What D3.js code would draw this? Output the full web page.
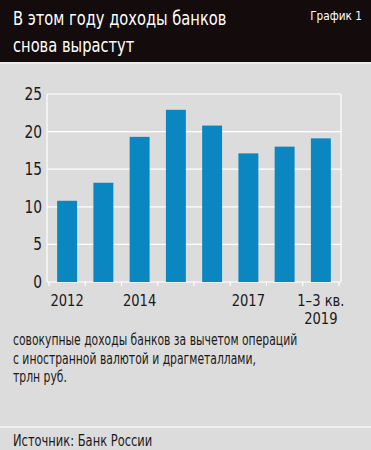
<!DOCTYPE html>
<html>
<head>
<meta charset="utf-8">
<script src="https://cdn.jsdelivr.net/npm/d3@7"></script>
<style>
  body { margin: 0; background: #dcdcdc; }
  text { font-family: "Liberation Sans Narrow", "DejaVu Sans Condensed", sans-serif; }
</style>
</head>
<body>
<div id="chart"></div>
<script>
const categories = ["2012", "2013", "2014", "2015", "2016", "2017", "2018", "1–3 кв. 2019"];
const values = [10.8, 13.2, 19.3, 22.9, 20.8, 17.1, 18.0, 19.1];
const yTicks = [0, 5, 10, 15, 20, 25];
// подписи по оси X (пустые — без подписи)
const xLabels = [["2012"], [], ["2014"], [], [], ["2017"], [], ["1–3 кв.", "2019"]];
const titleLines = ["В этом году доходы банков", "снова вырастут"];
const noteLines = ["совокупные доходы банков за вычетом операций", "с иностранной валютой и драгметаллами,", "трлн руб."];

const width = 371, height = 450;
const svg = d3.select("#chart").append("svg")
    .attr("width", width)
    .attr("height", height);

// шрифт в оригинале узкий — поджимаем текст по ширине
const squeeze = (sel, k) => sel.each(function () {
    const w = this.getComputedTextLength();
    d3.select(this).attr("textLength", w * k).attr("lengthAdjust", "spacingAndGlyphs");
});

svg.append("rect").attr("width", width).attr("height", height).attr("fill", "#dcdcdc");

// шапка
svg.append("rect").attr("width", width).attr("height", 62).attr("fill", "#140c0c");
svg.append("rect").attr("y", 62).attr("width", width).attr("height", 2).attr("fill", "#ececec");

svg.selectAll(".title")
    .data(titleLines)
    .enter().append("text")
    .attr("x", 13)
    .attr("y", (d, i) => 25 + i * 27)
    .attr("fill", "#fff")
    .style("font-size", "20px")
    .text(d => d)
    .call(squeeze, 0.815);

svg.append("text")
    .attr("x", 362)
    .attr("y", 20)
    .attr("text-anchor", "end")
    .attr("fill", "#fff")
    .style("font-size", "13px")
    .text("График 1")
    .call(squeeze, 0.9);

const x = d3.scaleBand()
    .domain(categories)
    .range([47, 341])
    .paddingInner(0.45)
    .paddingOuter(0.28);

const y = d3.scaleLinear()
    .domain([0, 25])
    .range([282, 94]);

// сетка
svg.append("g")
    .selectAll("line")
    .data(yTicks)
    .enter().append("line")
    .attr("x1", 47).attr("x2", 341)
    .attr("y1", d => y(d)).attr("y2", d => y(d))
    .attr("stroke", "#fff")
    .attr("stroke-width", 1.2);

svg.append("line")
    .attr("x1", 47).attr("x2", 47)
    .attr("y1", y(25)).attr("y2", y(0))
    .attr("stroke", "#fff")
    .attr("stroke-width", 1.2);

svg.append("line")
    .attr("x1", 341).attr("x2", 341)
    .attr("y1", y(25)).attr("y2", y(0))
    .attr("stroke", "#fff")
    .attr("stroke-width", 1.2);

// засечки между столбцами
const step = x.step();
const tickPos = d3.range(categories.length + 1).map(i => x(categories[0]) - step * x.paddingInner() / 2 + i * step);
svg.append("g")
    .selectAll("line")
    .data(tickPos)
    .enter().append("line")
    .attr("x1", d => d).attr("x2", d => d)
    .attr("y1", y(0)).attr("y2", y(0) + 4)
    .attr("stroke", "#fff")
    .attr("stroke-width", 1.2);

// столбцы
svg.append("g")
    .selectAll("rect")
    .data(values)
    .enter().append("rect")
    .attr("x", (d, i) => x(categories[i]))
    .attr("y", d => y(d))
    .attr("width", x.bandwidth())
    .attr("height", d => y(0) - y(d))
    .attr("fill", "#0a86c0");

// ось Y
svg.append("g")
    .selectAll("text")
    .data(yTicks)
    .enter().append("text")
    .attr("x", 42)
    .attr("y", d => y(d) + 6)
    .attr("text-anchor", "end")
    .attr("fill", "#1a1a1a")
    .style("font-size", "17px")
    .text(d => d)
    .call(squeeze, 0.9);

// ось X
xLabels.forEach((lines, i) => {
    lines.forEach((t, j) => {
        svg.append("text")
            .attr("x", x(categories[i]) + x.bandwidth() / 2)
            .attr("y", 306 + j * 18)
            .attr("text-anchor", "middle")
            .attr("fill", "#1a1a1a")
            .style("font-size", "15.5px")
            .text(t)
            .call(squeeze, 0.94);
    });
});

// примечание
svg.selectAll(".note")
    .data(noteLines)
    .enter().append("text")
    .attr("x", 13)
    .attr("y", (d, i) => 345 + i * 18.5)
    .attr("fill", "#1a1a1a")
    .style("font-size", "15px")
    .text(d => d)
    .call(squeeze, 0.8);

svg.append("rect").attr("y", 426).attr("width", width).attr("height", 2).attr("fill", "#f0f0f0");

svg.append("text")
    .attr("x", 13)
    .attr("y", 446)
    .attr("fill", "#1a1a1a")
    .style("font-size", "15px")
    .text("Источник: Банк России")
    .call(squeeze, 0.85);
</script>
</body>
</html>
